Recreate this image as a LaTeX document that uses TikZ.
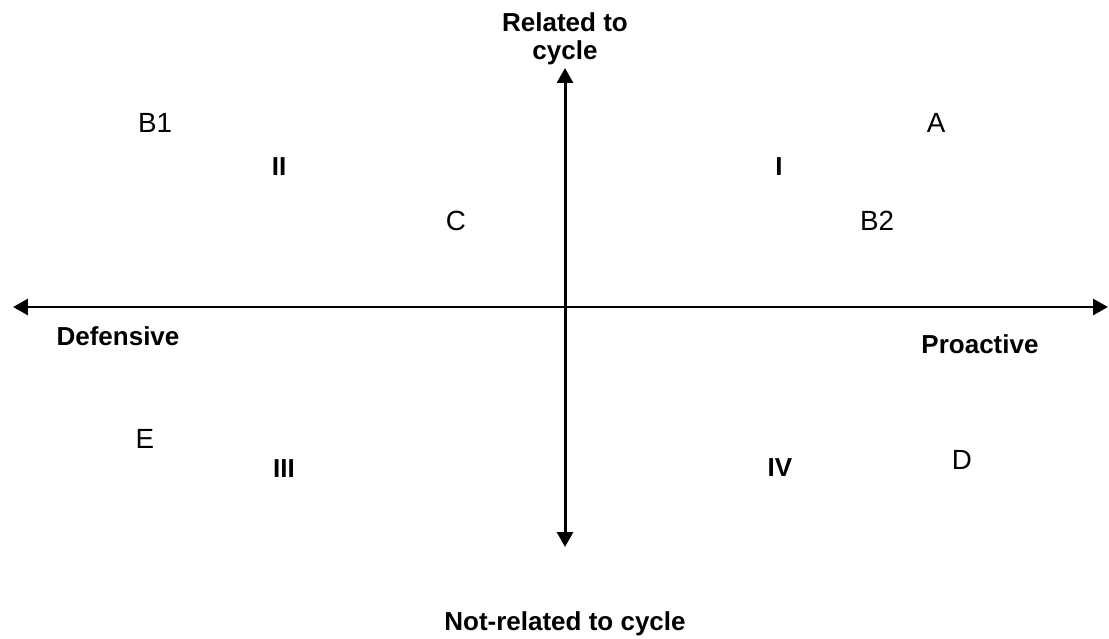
\documentclass[tikz,border=0pt]{standalone}
\usepackage{fontspec}
\setmainfont{Liberation Sans}
\usetikzlibrary{arrows.meta,positioning}

\begin{document}
\begin{tikzpicture}[
  x=0.02cm, y=-0.02cm,
  pt/.style={inner sep=0pt, anchor=base, font=\fontsize{15.8}{18}\selectfont},
  quad/.style={inner sep=0pt, anchor=base, font=\fontsize{14.8}{15.9}\selectfont\bfseries, align=center},
  axis/.style={{Triangle[length=3mm,width=3.2mm]}-{Triangle[length=3mm,width=3.2mm]}, line width=1.7pt},
  node distance=1mm]
\useasboundingbox (0,0) rectangle (1109,639);
% axes
\coordinate (west) at (13,307);
\coordinate (east) at (1108,307);
\coordinate (ntop) at (565,68);
\coordinate (nbot) at (565,547);
\draw[axis] (west) -- (east);
\draw[axis] (ntop) -- (nbot);
\node[quad,anchor=south,above=0.6mm of ntop] (related) {Related to\\cycle};
\node[quad] (notrelated) at (565,630) {Not-related to cycle};
\node[quad] (defensive) at (118,345) {Defensive};
\node[quad] (proactive) at (980,353) {Proactive};
% quadrants
\node[quad] (qI) at (779,175) {I};
\node[quad] (qII) at (279,175) {II};
\node[quad] (qIII) at (284,477) {III};
\node[quad] (qIV) at (780,476) {IV};
% points
\node[pt] (A) at (936,132) {A};
\node[pt] (B1) at (155,132) {B1};
\node[pt] (B2) at (877,230) {B2};
\node[pt] (C) at (456,230) {C};
\node[pt] (D) at (962,469) {D};
\node[pt] (E) at (145,448) {E};
\end{tikzpicture}
\end{document}
